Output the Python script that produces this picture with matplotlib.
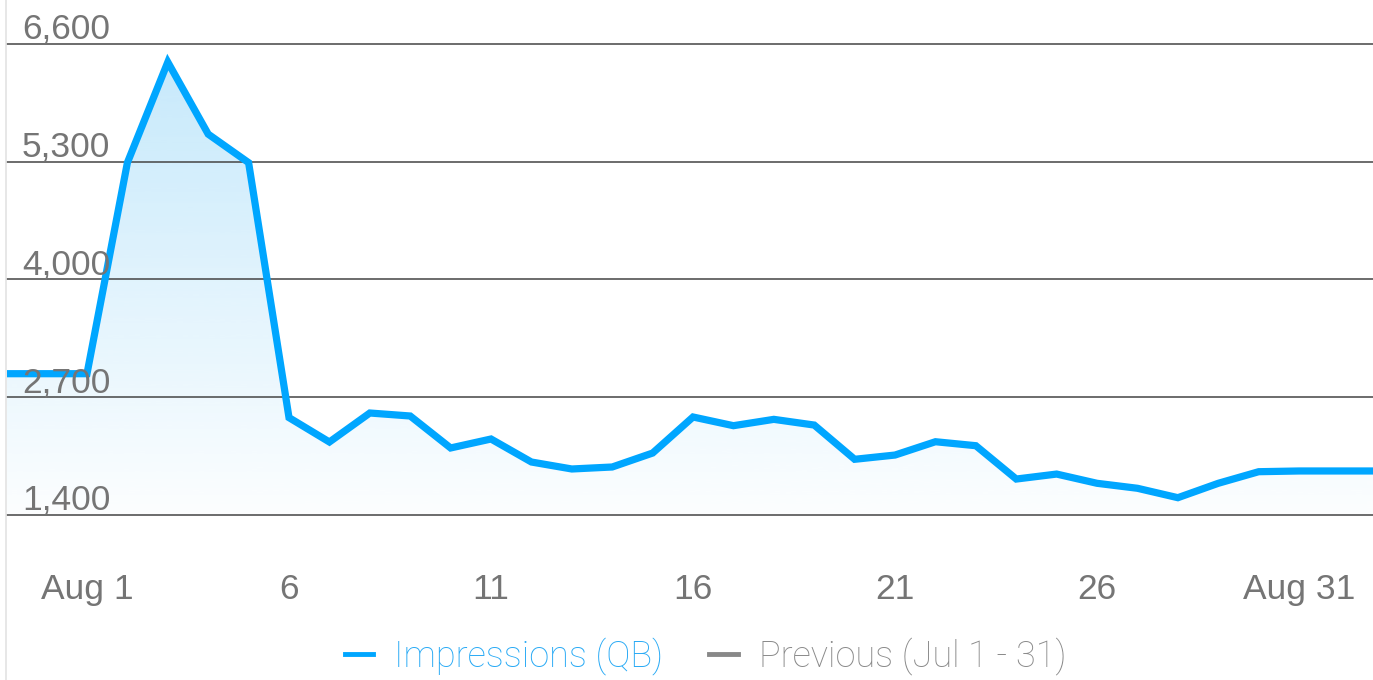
import numpy as np
import matplotlib.pyplot as plt
from matplotlib.colors import LinearSegmentedColormap
from matplotlib.lines import Line2D

plt.rcParams['font.family'] = ['Liberation Sans', 'DejaVu Sans']

days = np.arange(1, 32)
impressions = [2960, 5290, 6400, 5605, 5290, 2475, 2206, 2526, 2493, 2140,
               2239, 1985, 1908, 1930, 2084, 2482, 2386, 2456, 2393, 2015,
               2062, 2209, 2165, 1797, 1852, 1750, 1695, 1591, 1750, 1878,
               1886]
y_ticks = [1400, 2700, 4000, 5300, 6600]
x_ticks = [1, 6, 11, 16, 21, 26, 31]
x_labels = ['Aug 1', '6', '11', '16', '21', '26', 'Aug 31']

blue = '#00a6ff'
gray = '#757575'

fig = plt.figure(figsize=(13.73, 6.80), dpi=100)
ax = fig.add_axes([7 / 1373, 165 / 680, 1 - 7 / 1373, 471 / 680])

x0, x1 = -0.98, 32.83
ax.set_xlim(x0, x1)
ax.set_ylim(1400, 6600)

# line runs flat out to both edges of the plot area
xs = np.concatenate([[x0], days, [x1]])
ys = np.concatenate([[impressions[0]], impressions, [impressions[-1]]])

# gradient fill under the line
fill = ax.fill_between(xs, ys, 1400, color='none', lw=0)
grad = np.linspace(0.015, 0.23, 256).reshape(-1, 1)
cmap = LinearSegmentedColormap.from_list('fade', [(0.04, 0.63, 0.94, 0.0),
                                                  (0.04, 0.63, 0.94, 1.0)])
img = ax.imshow(grad, cmap=cmap, vmin=0, vmax=1, aspect='auto',
                origin='lower', extent=[x0, x1, 1400, max(impressions)],
                zorder=1)
img.set_clip_path(fill.get_paths()[0], transform=ax.transData)

ax.plot(xs, ys, color=blue, lw=5.2, solid_joinstyle='miter', zorder=3)

for v in y_ticks:
    ax.axhline(v, color='#444444', lw=1.1, zorder=2, clip_on=False)
    ax.annotate(f'{v:,}', xy=(0, v), xycoords=('axes fraction', 'data'),
                xytext=(15, -2), textcoords='offset pixels',
                ha='left', va='bottom', fontsize=25.5, color=gray, zorder=4)

ax.set_yticks([])
ax.set_xticks(x_ticks)
ax.set_xticklabels(x_labels, fontsize=25.5, color=gray)
ax.tick_params(axis='x', length=0, pad=42)
for s in ax.spines.values():
    s.set_visible(False)

# thin left border down the full height
fig.add_artist(Line2D([6 / 1373, 6 / 1373], [0, 1], color='#e3e3e3', lw=1.2))

handles = [Line2D([], [], color=blue, lw=3.5),
           Line2D([], [], color='#888888', lw=3.5)]
leg = fig.legend(handles, ['Impressions (QB)', 'Previous (Jul 1 - 31)'],
                 loc='center', bbox_to_anchor=(705.5 / 1373, 24 / 680),
                 ncol=2, frameon=False, handlelength=0.78,
                 handletextpad=0.58, columnspacing=1.28,
                 prop={'family': 'Roboto', 'weight': 'light', 'size': 26})
leg.get_texts()[0].set_color('#29aaf5')
leg.get_texts()[1].set_color('#8a8a8a')

fig.savefig('out.png', dpi=100)
